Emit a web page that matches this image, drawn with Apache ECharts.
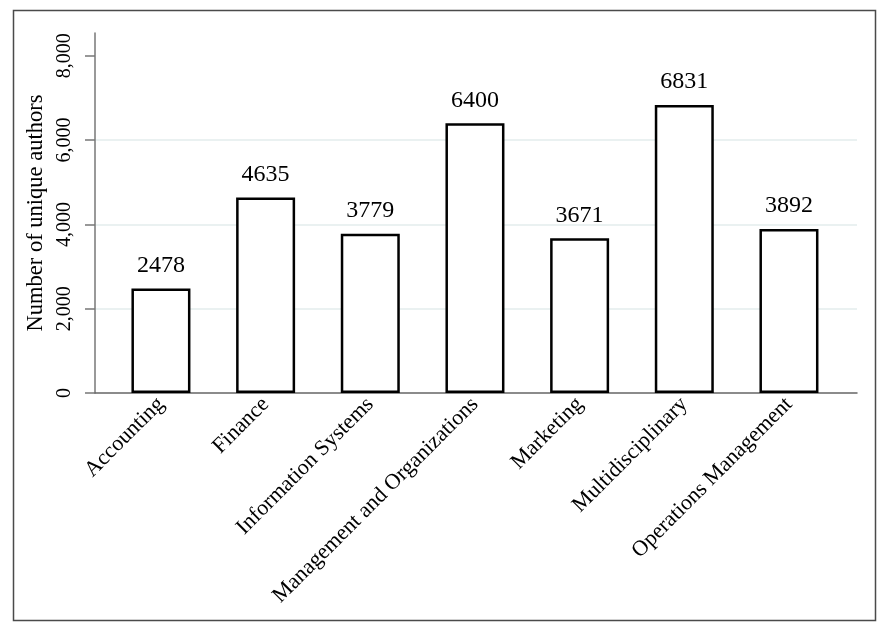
<!DOCTYPE html>
<html>
<head>
<meta charset="utf-8">
<script src="https://cdn.jsdelivr.net/npm/echarts@6/dist/echarts.min.js"></script>
<style>
html,body{margin:0;padding:0;background:#fff;}
#chart{width:889px;height:631px;}
</style>
</head>
<body>
<div id="chart"></div>
<script>
const categories = ["Accounting", "Finance", "Information Systems", "Management and Organizations", "Marketing", "Multidisciplinary", "Operations Management"];
const authors = [2478, 4635, 3779, 6400, 3671, 6831, 3892];
const yTicks = [0, 2000, 4000, 6000, 8000];
const yTitle = "Number of unique authors";

const FONT = "Liberation Serif";
const chart = echarts.init(document.getElementById('chart'), null, {renderer: 'canvas'});
const barData = authors.map((v, i) => [i, v]);
const xPositions = categories.map((c, i) => i);

chart.setOption({
  animation: false,
  backgroundColor: '#fff',
  textStyle: {fontFamily: FONT, color: '#000'},
  grid: {left: 95, right: 32, top: 33, bottom: 238, containLabel: false},
  graphic: [{
    type: 'rect', silent: true, z: -1,
    shape: {x: 13.5, y: 10.5, width: 862, height: 610},
    style: {fill: 'none', stroke: '#4a4a4a', lineWidth: 1.5}
  }],
  xAxis: {
    type: 'value', min: -0.63, max: 6.65,
    splitLine: {show: false},
    axisTick: {show: false},
    axisLine: {show: true, onZero: false, lineStyle: {color: '#666', width: 1.5}},
    axisLabel: {
      customValues: xPositions,
      rotate: 45, margin: 8,
      fontFamily: FONT, fontSize: 22, color: '#000',
      formatter: v => categories[Math.round(v)]
    }
  },
  yAxis: {
    type: 'value', min: 0, max: 8540, interval: 2000,
    name: yTitle, nameLocation: 'middle', nameRotate: 90, nameGap: 40,
    nameTextStyle: {fontFamily: FONT, fontSize: 22.5, color: '#000'},
    axisLine: {show: true, onZero: false, lineStyle: {color: '#777', width: 1.5}},
    axisTick: {show: true, length: 10, customValues: yTicks, lineStyle: {color: '#777', width: 1.5}},
    axisLabel: {
      customValues: yTicks, rotate: 90, margin: 20,
      fontFamily: FONT, fontSize: 20, color: '#000',
      formatter: v => v.toLocaleString('en-US')
    },
    splitLine: {show: true, showMinLine: false, showMaxLine: false, lineStyle: {color: '#e3ecec', width: 1.5}}
  },
  series: [{
    type: 'bar',
    data: barData,
    barWidth: 59,
    itemStyle: {color: '#fff', borderColor: '#000', borderWidth: 2.5},
    label: {show: true, position: 'top', distance: 11, fontFamily: FONT, fontSize: 24, color: '#000',
      formatter: p => String(p.value[1])}
  }]
});
</script>
</body>
</html>
